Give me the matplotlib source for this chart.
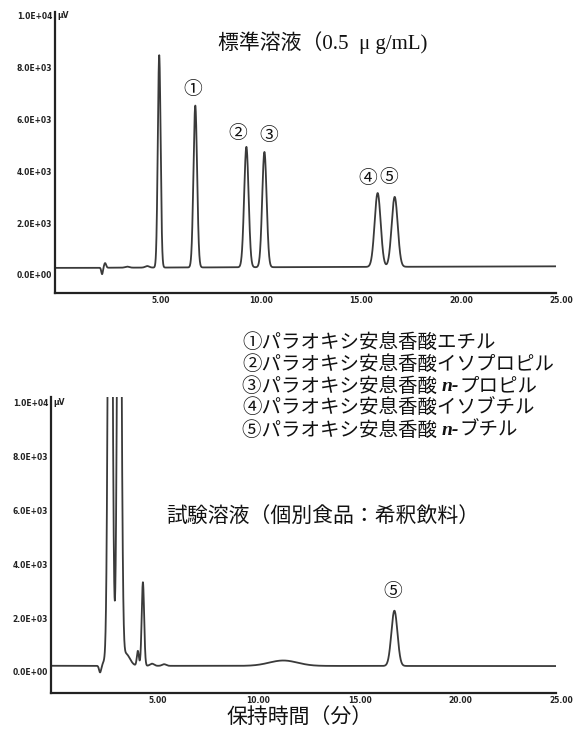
import numpy as np
import matplotlib.pyplot as plt
from matplotlib.transforms import ScaledTranslation

# 標準溶液 (0.5 µg/mL): 保持時間(分), ピーク高さ(µV), ピーク幅(分)
std_rt = [2.35, 2.5, 3.6, 4.6, 5.2, 7.0, 9.55, 10.45, 16.1, 16.95]
std_height = [-250, 180, 40, 60, 8200, 6250, 4650, 4450, 2850, 2700]
std_width = [0.04, 0.05, 0.1, 0.1, 0.07, 0.09, 0.11, 0.11, 0.15, 0.15]
std_base = [270, 330]  # ベースライン (0分, 25分)
std_label_peaks = [5, 6, 7, 8, 9]
std_labels = ["①", "②", "③", "④", "⑤"]

# 試験溶液 (個別食品：希釈飲料)
sample_rt = [2.43, 2.65, 2.93, 3.38, 3.7, 4.3, 4.55, 5.0, 5.6, 11.5, 17.0]
sample_height = [-250, 150, 30000, 25000, 450, 550, 3100, 80, 60, 200, 2050]
sample_width = [0.05, 0.08, 0.09, 0.09, 0.2, 0.05, 0.06, 0.1, 0.1, 0.7, 0.15]
sample_base = [230, 220]
sample_label_peaks = [10]
sample_labels = ["⑤"]

compounds = [
    ("①パラオキシ安息香酸エチル", None, ""),
    ("②パラオキシ安息香酸イソプロピル", None, ""),
    ("③パラオキシ安息香酸 ", "n-", "プロピル"),
    ("④パラオキシ安息香酸イソブチル", None, ""),
    ("⑤パラオキシ安息香酸 ", "n-", "ブチル"),
]

x_ticks = [5, 10, 15, 20, 25]
x_ticklabels = ["5.00", "10.00", "15.00", "20.00", "25.00"]
y_ticks = [0, 2000, 4000, 6000, 8000, 10000]
y_ticklabels = ["0.0E+00", "2.0E+03", "4.0E+03", "6.0E+03", "8.0E+03", "1.0E+04"]

JP = ["Liberation Serif", "Noto Sans CJK JP"]
LINE = "#3a3a3a"
INK = "#111111"


def trace(t, rt, height, width, base):
    y = np.interp(t, [t[0], t[-1]], base)
    for r, h, w in zip(rt, height, width):
        y = y + h * np.exp(-0.5 * ((t - r) / w) ** 2)
    return y


def style_axes(ax, ylim):
    ax.set_xlim(0, 25)
    ax.set_ylim(*ylim)
    for side in ["top", "right"]:
        ax.spines[side].set_visible(False)
    for side in ["left", "bottom"]:
        ax.spines[side].set_linewidth(1.6)
        ax.spines[side].set_color("#222222")
    ax.set_xticks(x_ticks)
    ax.set_xticklabels(x_ticklabels)
    ax.set_yticks(y_ticks)
    ax.set_yticklabels(y_ticklabels)
    ax.tick_params(length=0, pad=2, labelsize=5.5, labelcolor="#222222")
    for lab in ax.get_xticklabels() + ax.get_yticklabels():
        lab.set_fontweight("bold")
    for lab in ax.get_xticklabels():
        lab.set_transform(lab.get_transform() + ScaledTranslation(4 / 72, 0, ax.figure.dpi_scale_trans))
    ax.annotate("µV", xy=(0, 10000), xytext=(1.5, 0), textcoords="offset points",
                ha="left", va="center", fontsize=5.5, fontweight="bold", color="#222222")


def label_peaks(ax, t, y, rt, idx, labels, offsets):
    for i, lab, (dx, dy) in zip(idx, labels, offsets):
        top = y[np.argmin(np.abs(t - rt[i]))]
        ax.annotate(lab, xy=(rt[i], top), xytext=(dx, dy), textcoords="offset points",
                    ha="center", va="center", fontsize=13.5, family=JP, color=INK)


fig = plt.figure(figsize=(5.8, 7.34), dpi=100)
W, H = 580, 734

t = np.linspace(0, 25, 6001)

# 上段: 標準溶液
ax1 = fig.add_axes([55 / W, 1 - 293 / H, 501 / W, 281 / H])
y1 = trace(t, std_rt, std_height, std_width, std_base)
ax1.plot(t, y1, color=LINE, lw=1.3)
style_axes(ax1, (-700, 10150))
label_peaks(ax1, t, y1, std_rt, std_label_peaks, std_labels,
            [(-2, 11), (-6, 9), (3, 11.5), (-7, 10), (-4, 13)])

# 下段: 試験溶液
ax2 = fig.add_axes([51 / W, 1 - 693 / H, 505 / W, 296 / H])
y2 = trace(t, sample_rt, sample_height, sample_width, sample_base)
ax2.plot(t, y2, color=LINE, lw=1.3)
style_axes(ax2, (-780, 10200))
label_peaks(ax2, t, y2, sample_rt, sample_label_peaks, sample_labels, [(-1, 13)])

# テキスト (ピクセル座標)
tax = fig.add_axes([0, 0, 1, 1])
tax.set_xlim(0, W)
tax.set_ylim(H, 0)
tax.axis("off")

tax.text(323, 43, "標準溶液（0.5  μ g/mL)", ha="center", va="center", fontsize=15, family=JP, color=INK)
tax.text(323, 517, "試験溶液（個別食品：希釈飲料）", ha="center", va="center", fontsize=15, family=JP, color=INK)
tax.text(300, 718, "保持時間（分）", ha="center", va="center", fontsize=15, family=JP, color=INK)

y0 = 342
for k, (head, ital, tail) in enumerate(compounds):
    txt = tax.text(242, y0 + k * 22, head, ha="left", va="center", fontsize=14, family=JP, color=INK)
    if ital:
        txt = tax.annotate(ital, xy=(1, 0), xycoords=txt, ha="left", va="bottom", fontsize=14,
                           family="Liberation Serif", fontweight="bold", fontstyle="italic", color=INK)
        tax.annotate(tail, xy=(1, 0), xycoords=txt, ha="left", va="bottom", fontsize=14,
                     family=JP, color=INK)

fig.savefig("out.png", dpi=100)
